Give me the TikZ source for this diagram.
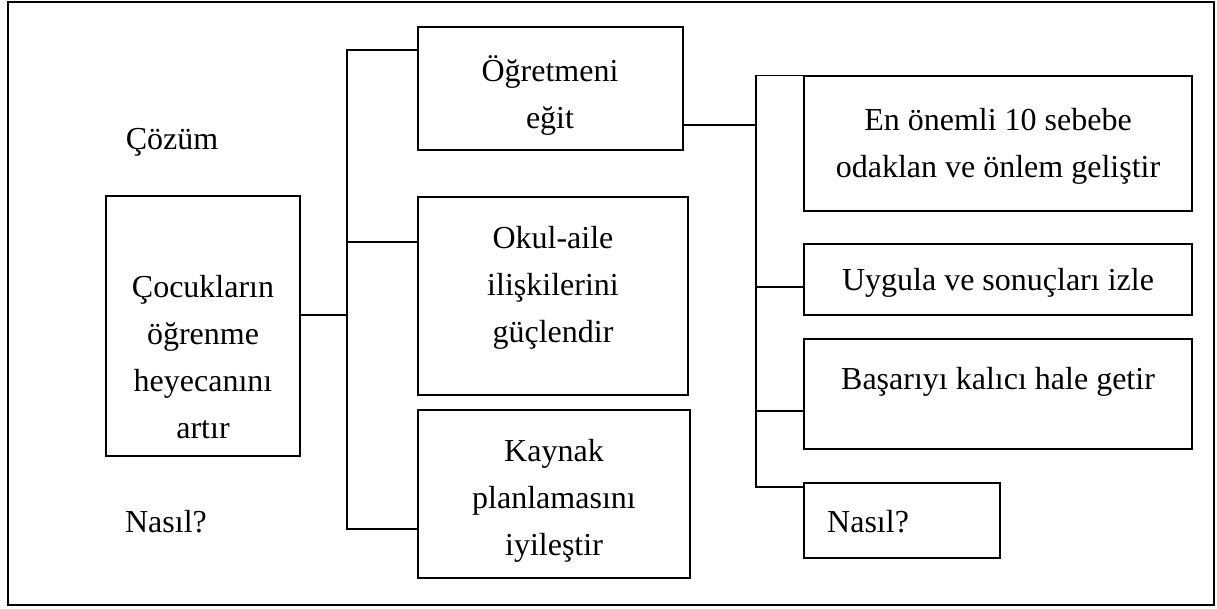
\documentclass[tikz,border=0pt]{standalone}
\usepackage{fontspec}
\setmainfont{Liberation Serif}
\begin{document}
\begin{tikzpicture}[x=1pt,y=-1pt,
  box/.style={draw,line width=1.4pt,inner sep=0pt},
  link/.style={line width=1.2pt},
  lbl/.style={inner sep=0pt,align=center,font=\fontsize{32}{47}\selectfont}]
\useasboundingbox (0,0) rectangle (1217,608);

% outer frame
\node[box,line width=1.6pt,minimum width=1206,minimum height=603] (frame) at (611,303.5) {};

% goal box
\node[box,minimum width=194,minimum height=260] (main) at (203,326) {};
\node[lbl] (t-main) at (203,357) {Çocukların\\öğrenme\\heyecanını\\artır};

% first-level actions
\node[box,minimum width=265,minimum height=123] (b1) at (550.5,88.5) {};
\node[lbl] (t-b1) at (550,95) {Öğretmeni\\eğit};
\node[box,minimum width=270,minimum height=198] (b2) at (553,296) {};
\node[lbl] (t-b2) at (553,288) {Okul-aile\\ilişkilerini\\güçlendir};
\node[box,minimum width=272,minimum height=168] (b3) at (554,494) {};
\node[lbl] (t-b3) at (554,501) {Kaynak\\planlamasını\\iyileştir};

% second-level actions
\node[box,minimum width=388,minimum height=135] (r1) at (998,143.5) {};
\node[lbl] (t-r1) at (998,146) {En önemli 10 sebebe\\odaklan ve önlem geliştir};
\node[box,minimum width=388,minimum height=71] (r2) at (998,279.5) {};
\node[lbl] (t-r2) at (998,283) {Uygula ve sonuçları izle};
\node[box,minimum width=388,minimum height=110] (r3) at (998,394) {};
\node[lbl] (t-r3) at (998,382) {Başarıyı kalıcı hale getir};
\node[box,minimum width=196,minimum height=75] (r4) at (902,520.5) {};
\node[lbl,anchor=west] (t-r4) at (827,522) {Nasıl?};

% side captions
\node[lbl] (cozum) at (172,142) {Çözüm};
\node[lbl] (nasil) at (166,522) {Nasıl?};

% left tree
\coordinate (s1) at (347,50);
\coordinate (sm) at (347,315);
\coordinate (s2) at (347,242);
\coordinate (s3) at (347,529);
\draw[link] (sm -| main.east) -- (sm);
\draw[link] (s1 -| b1.west) -- (s1) -- (s3) -- (s3 -| b3.west);
\draw[link] (s2) -- (s2 -| b2.west);

% right tree
\coordinate (q0) at (756,125);
\coordinate (q2) at (756,287);
\coordinate (q3) at (756,411);
\coordinate (q4) at (756,487);
\draw[link] (q0 -| b1.east) -- (q0);
\draw[link] (r1.north west) -| (q4) -- (q4 -| r4.west);
\draw[link] (q2) -- (q2 -| r2.west);
\draw[link] (q3) -- (q3 -| r3.west);
\end{tikzpicture}
\end{document}
